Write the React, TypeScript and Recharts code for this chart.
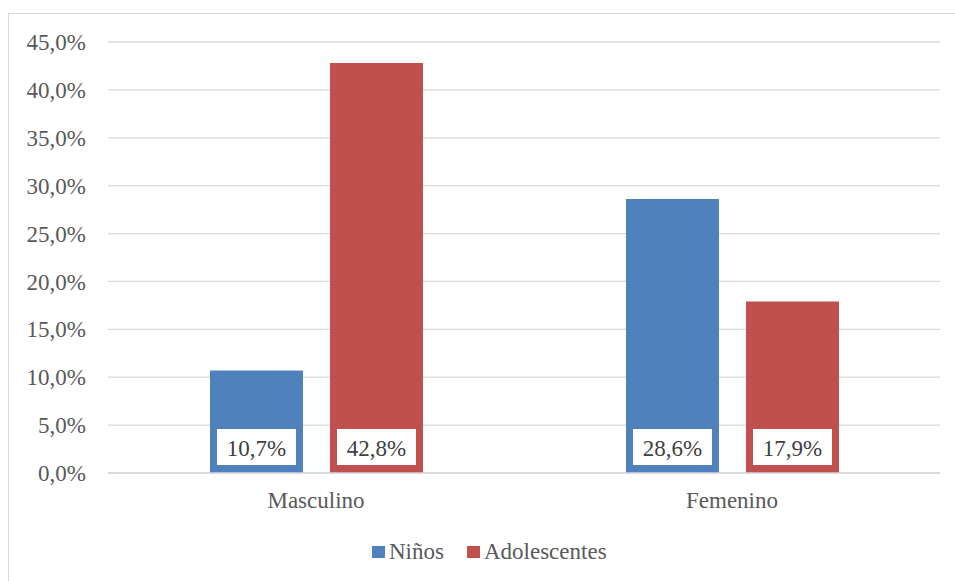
import React from 'react';
import { BarChart, Bar, XAxis, YAxis, CartesianGrid, Legend, LabelList } from 'recharts';

const categories = ['Masculino', 'Femenino'];
const ninos = [10.7, 28.6];
const adolescentes = [42.8, 17.9];
const yTicks = [0, 5, 10, 15, 20, 25, 30, 35, 40, 45];
const seriesNames = ['Niños', 'Adolescentes'];
const seriesKeys = ['ninos', 'adolescentes'];
const seriesColors = ['#4F81BD', '#C0504D'];

const data = categories.map((c, i) => ({ name: c, ninos: ninos[i], adolescentes: adolescentes[i] }));

const FONT = 'Liberation Serif, Times New Roman, Tinos, DejaVu Serif, serif';
const fmt = (v: number) => Number(v).toFixed(1).replace('.', ',') + '%';

const BoxLabel = (props: any) => {
  const { x, y, width, height, value } = props;
  const bottom = Number(y) + Number(height);
  const bh = 36;
  const bx = Number(x) + 7;
  const bw = Number(width) - 14;
  const by = bottom - 8 - bh;
  return (
    <g>
      <rect x={bx} y={by} width={bw} height={bh} fill="#FFFFFF" />
      <text
        x={Number(x) + Number(width) / 2}
        y={by + bh / 2 + 1}
        textAnchor="middle"
        dominantBaseline="central"
        style={{ fontFamily: FONT }}
        fontSize={23}
        fill="#404040"
      >
        {fmt(value)}
      </text>
    </g>
  );
};

const renderLegend = () => (
  <div
    style={{
      display: 'flex',
      alignItems: 'center',
      fontFamily: FONT,
      fontSize: 23,
      color: '#595959',
      lineHeight: '26px',
      whiteSpace: 'nowrap',
    }}
  >
    {seriesNames.map((n, i) => (
      <div key={n} style={{ display: 'flex', alignItems: 'center', marginRight: i === 0 ? 23 : 0 }}>
        <span
          style={{ width: 13, height: 12, background: seriesColors[i], marginRight: 4, display: 'inline-block' }}
        />
        <span>{n}</span>
      </div>
    ))}
  </div>
);

export default function App() {
  return (
    <div
      style={{
        position: 'fixed',
        left: 8,
        top: 13,
        width: 947,
        height: 568,
        borderLeft: '1px solid #D9D9D9',
        borderTop: '1px solid #D9D9D9',
        background: '#FFFFFF',
        overflow: 'hidden',
        fontFamily: FONT,
      }}
    >
      <BarChart
        width={946}
        height={567}
        data={data}
        margin={{ top: 28, right: 15, bottom: 78, left: 0 }}
        barGap={27}
        barSize={93}
        style={{ fontFamily: FONT }}
      >
        <CartesianGrid vertical={false} stroke="#D9D9D9" strokeWidth={1.3} />
        <XAxis
          dataKey="name"
          height={30}
          axisLine={{ stroke: '#D9D9D9', strokeWidth: 1.3 }}
          tickLine={false}
          tickSize={6}
          tickMargin={13}
          tick={{ fontFamily: FONT, fontSize: 23, fill: '#595959' }}
        />
        <YAxis
          width={99}
          domain={[0, 45]}
          ticks={yTicks}
          interval={0}
          axisLine={false}
          tickLine={false}
          tickSize={6}
          tickMargin={16}
          tickFormatter={fmt}
          tick={{ fontFamily: FONT, fontSize: 23, fill: '#595959' }}
        />
        <Legend
          verticalAlign="middle"
          align="center"
          layout="horizontal"
          content={renderLegend}
          wrapperStyle={{ left: 363, top: 525, width: 'auto' }}
        />
        {seriesKeys.map((k, i) => (
          <Bar key={k} dataKey={k} name={seriesNames[i]} fill={seriesColors[i]} isAnimationActive={false}>
            <LabelList dataKey={k} content={BoxLabel} />
          </Bar>
        ))}
      </BarChart>
    </div>
  );
}
